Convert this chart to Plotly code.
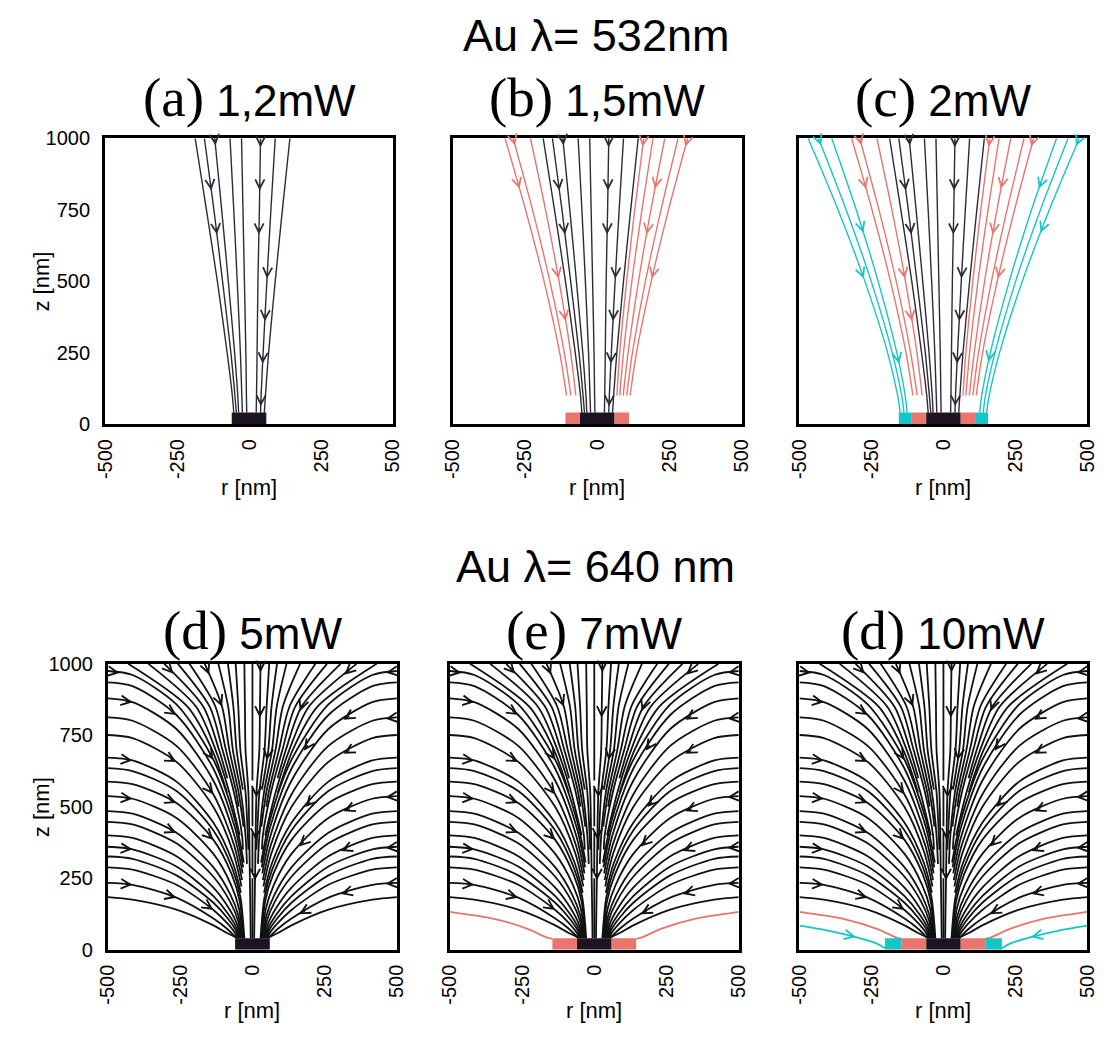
import numpy as np
import plotly.graph_objects as go

FIG_W, FIG_H = 1118, 1037

# ------------------------------------------------------------------
# Au, lambda = 532 nm : streamlines given as r [nm] at the z levels below
# ------------------------------------------------------------------
Z_LEVELS_532 = [1000, 750, 500, 250, 100, 40]

BLACK_532 = [
    [-187, -148, -110, -76, -58, -53],
    [-155, -122, -92, -63, -49, -44],
    [-119, -95, -72, -50, -39, -36],
    [-66, -53, -41, -30, -25, -23],
    [-26, -21, -16, -11, -9, -8],
    [40, 36, 31, 28, 26, 25],
    [91, 76, 62, 49, 42, 40],
    [142, 116, 91, 68, 57, 53],
]
RED_532 = [
    [-319, -248, -184, -130, -106],
    [-291, -224, -164, -114, -91],
    [-231, -179, -132, -92, -74],
    [161, 130, 102, 78, 68],
    [193, 155, 120, 91, 78],
    [234, 186, 143, 107, 90],
    [280, 221, 167, 122, 102],
    [313, 247, 187, 136, 114],
]
CYAN_532 = [
    [-470, -366, -273, -194, -159, -150],
    [-434, -338, -251, -178, -145, -137],
    [-388, -303, -227, -162, -133, -126],
    [393, 306, 229, 163, 133, 126],
    [433, 337, 251, 179, 146, 138],
    [472, 368, 274, 195, 159, 150],
]
# arrowheads: (streamline index, z [nm])
ARROWS_BLACK_532 = [(2, 975), (1, 817), (1, 663), (5, 968), (5, 817), (5, 663),
                    (6, 509), (6, 360), (6, 211), (6, 62)]
ARROWS_RED_532 = [(1, 975), (0, 823), (2, 509), (2, 360), (3, 970), (5, 823),
                  (5, 663), (7, 509), (7, 970)]
ARROWS_CYAN_532 = [(1, 975), (2, 669), (0, 509), (2, 211), (5, 972), (3, 823),
                   (5, 669), (3, 217)]

# ------------------------------------------------------------------
# Au, lambda = 640 nm : left half of the field, (r, z) points per streamline
# ------------------------------------------------------------------
SIDE_LINES_640 = [  # entering through the side wall
    [(-500, 975), (-415, 961), (-263, 858), (-135, 664), (-60, 452), (-30, 305)],
    [(-500, 935), (-415, 922), (-263, 821), (-135, 633), (-60, 425), (-32, 288)],
    [(-500, 879), (-415, 866), (-263, 772), (-135, 591), (-62, 397), (-34, 267)],
    [(-500, 813), (-415, 801), (-263, 713), (-135, 543), (-64, 367), (-36, 243)],
    [(-500, 751), (-415, 740), (-263, 657), (-135, 499), (-66, 338), (-38, 221)],
    [(-500, 672), (-415, 662), (-263, 588), (-135, 444), (-68, 304), (-40, 199)],
    [(-500, 635), (-415, 625), (-263, 555), (-135, 417), (-70, 285), (-42, 185), (-28, 40)],
    [(-500, 588), (-415, 579), (-263, 513), (-135, 384), (-72, 264), (-44, 169), (-31, 40)],
    [(-500, 537), (-415, 528), (-263, 461), (-135, 335), (-74, 227), (-46, 142), (-34, 40)],
    [(-500, 485), (-415, 476), (-263, 409), (-135, 288), (-76, 192), (-48, 118), (-37, 40)],
    [(-500, 447), (-415, 438), (-263, 372), (-135, 255), (-78, 169), (-50, 102), (-40, 40)],
    [(-500, 400), (-415, 391), (-263, 327), (-135, 217), (-80, 142), (-52, 85), (-43, 40)],
    [(-500, 360), (-415, 351), (-263, 291), (-135, 187), (-82, 122), (-54, 73), (-46, 40)],
    [(-500, 326), (-415, 318), (-263, 260), (-135, 164), (-84, 107), (-56, 64), (-49, 40)],
    [(-500, 288), (-415, 280), (-263, 227), (-135, 139), (-86, 91), (-58, 55), (-52, 40)],
    [(-500, 234), (-415, 227), (-263, 182), (-135, 109), (-88, 73), (-55, 40)],
    [(-500, 184), (-415, 175), (-263, 140), (-135, 85), (-90, 59), (-58, 44)],
]
TOP_LINES_640 = [  # entering through the top wall
    [(-430, 1000), (-225, 850), (-140, 700), (-88, 550)],
    [(-360, 1000), (-195, 850), (-128, 700), (-80, 550), (-44, 400)],
    [(-305, 1000), (-170, 850), (-116, 700), (-87, 600)],
    [(-258, 1000), (-148, 850), (-104, 700), (-64, 550), (-36, 400), (-33, 350)],
    [(-218, 1000), (-128, 850), (-92, 700), (-56, 550), (-48, 500)],
    [(-165, 1000), (-105, 850), (-80, 700), (-48, 550), (-31, 430)],
    [(-118, 1000), (-84, 850), (-68, 700), (-40, 550), (-24, 400), (-19, 300)],
    [(-85, 1000), (-66, 850), (-55, 700), (-33, 560)],
    [(-58, 1000), (-49, 850), (-42, 700), (-24, 550), (-16, 400), (-14, 350)],
    [(-28, 1000), (-26, 850), (-24, 700), (-14, 550), (-11, 400), (-9, 250), (-7, 120), (-6, 40)],
]
AXIS_SEGMENTS_640 = [(1000, 592), (566, 432), (410, 272), (250, 40)]  # z ranges on r = 0

# arrowheads: (family, index, coordinate, value); the right half is the mirror image
LEFT_ARROWS_640 = [
    ("S", 0, "r", -460), ("S", 2, "r", -415), ("S", 5, "r", -415), ("S", 8, "r", -415),
    ("S", 12, "r", -415), ("S", 15, "r", -415), ("S", 1, "r", -263), ("S", 4, "r", -263),
    ("S", 7, "r", -263), ("S", 9, "r", -263), ("S", 15, "r", -263), ("S", 0, "r", -135),
    ("S", 3, "r", -135), ("S", 7, "r", -135), ("S", 14, "r", -135),
    ("T", 2, "z", 965), ("T", 5, "z", 962), ("T", 5, "z", 850),
]
RIGHT_ARROWS_640 = [
    ("S", 0, "r", 462), ("S", 3, "r", 461), ("S", 8, "r", 461), ("S", 12, "r", 461),
    ("S", 15, "r", 461), ("S", 2, "r", 315), ("S", 4, "r", 315), ("S", 8, "r", 315),
    ("S", 11, "r", 306), ("S", 15, "r", 306), ("S", 1, "r", 178), ("S", 5, "r", 184),
    ("S", 8, "r", 161), ("S", 15, "r", 161),
    ("T", 1, "z", 962), ("T", 2, "z", 834), ("T", 7, "z", 663),
    ("T", 9, "z", 970), ("T", 9, "z", 811), ("T", 9, "z", 532), ("T", 9, "z", 384),
    ("T", 9, "z", 242),
]
RED_640 = [(-500, 132), (-344, 107), (-231, 73), (-163, 42), (-145, 38)]
CYAN_640 = [(-500, 84), (-401, 67), (-304, 44), (-231, 21), (-203, 5)]
CYAN_ARROW_640 = -304  # r of the arrowhead on the cyan line (left side)

# particle / melt regions at the bottom: band edges in r [nm] (black, red, cyan)
BAND_EDGES_532 = [[60], [60, 110], [60, 110, 155]]
BAND_EDGES_640 = [[60], [60, 145], [60, 145, 203]]
BAND_HEIGHT = 40

TITLES = ["Au λ= 532nm", "Au λ= 640 nm"]
PANEL_LABELS = [("(a)", "1,2mW"), ("(b)", "1,5mW"), ("(c)", "2mW"),
                ("(d)", "5mW"), ("(e)", "7mW"), ("(d)", "10mW")]
R_TICKS = [-500, -250, 0, 250, 500]
Z_TICKS = [0, 250, 500, 750, 1000]

# ------------------------------------------------------------------
# styling
# ------------------------------------------------------------------
DISK = "#1c1420"
RED = "#e8766f"
CYAN = "#14c6c8"
LINE_532 = "#2c2a36"
LINE_640 = "#111111"
BAND_COLORS = [DISK, RED, CYAN]
SANS = "Liberation Sans, Arial, sans-serif"
SERIF = "Liberation Serif, Times New Roman, serif"

# pixel boxes of the six frames: (left, right, top, bottom)
FRAMES = [(95, 389, 130, 422), (450, 745, 130, 422), (804, 1098, 130, 422),
          (98, 393, 667, 959), (447, 742, 667, 959), (804, 1098, 667, 959)]


def px_x(x):
    return x / FIG_W


def px_y(y):
    return 1 - y / FIG_H


def locate(pts, coord, value):
    """Point on a polyline where the given coordinate reaches value, plus direction."""
    k = 0 if coord == "r" else 1
    for a, b in zip(pts[:-1], pts[1:]):
        if (a[k] - value) * (b[k] - value) <= 0 and a[k] != b[k]:
            t = (value - a[k]) / (b[k] - a[k])
            r = a[0] + t * (b[0] - a[0])
            z = a[1] + t * (b[1] - a[1])
            return r, z, b[0] - a[0], b[1] - a[1]
    return None


fig = go.Figure()
annotations = []
shapes = []


def axis_names(i):
    s = "" if i == 0 else str(i + 1)
    return "x" + s, "y" + s


def add_lines(i, lines, color, width):
    xs, ys = [], []
    for pts in lines:
        xs += [p[0] for p in pts] + [None]
        ys += [p[1] for p in pts] + [None]
    xa, ya = axis_names(i)
    fig.add_trace(go.Scatter(x=xs, y=ys, mode="lines", xaxis=xa, yaxis=ya,
                             line=dict(color=color, width=width, shape="spline", smoothing=0.8),
                             hoverinfo="skip", showlegend=False))


def add_arrow(i, pts, coord, value, color, width, size):
    hit = locate(pts, coord, value)
    if hit is None:
        return
    r, z, dr, dz = hit
    n = np.hypot(dr, dz)
    xa, ya = axis_names(i)
    annotations.append(dict(x=r, y=z, ax=r - 26 * dr / n, ay=z - 26 * dz / n,
                            xref=xa, yref=ya, axref=xa, ayref=ya, text="",
                            font=dict(size=1), borderpad=0,
                            showarrow=True, arrowhead=5, arrowsize=size,
                            arrowwidth=width, arrowcolor=color, standoff=0))


def add_bands(i, edges):
    xa, ya = axis_names(i)
    bounds = [0] + edges
    for j in range(len(edges)):
        lo, hi = bounds[j], bounds[j + 1]
        spans = [(-hi, hi)] if j == 0 else [(-hi, -lo), (lo, hi)]
        for x0, x1 in spans:
            shapes.append(dict(type="rect", xref=xa, yref=ya, x0=x0, x1=x1, y0=0,
                               y1=BAND_HEIGHT, fillcolor=BAND_COLORS[j], line_width=0,
                               layer="above"))


def to_pts(rs):
    return [(r, z) for r, z in zip(rs, Z_LEVELS_532)]


# ---- top row: 532 nm ----
for i in range(3):
    black = [to_pts(rs) for rs in BLACK_532]
    add_lines(i, black, LINE_532, 1.4)
    for k, z in ARROWS_BLACK_532:
        add_arrow(i, black[k], "z", z, LINE_532, 1.2, 1.5)
    if i >= 1:
        red = [to_pts(rs) for rs in RED_532]
        add_lines(i, red, RED, 1.4)
        for k, z in ARROWS_RED_532:
            add_arrow(i, red[k], "z", z, RED, 1.2, 1.5)
    if i >= 2:
        cyan = [to_pts(rs) for rs in CYAN_532]
        add_lines(i, cyan, CYAN, 1.4)
        for k, z in ARROWS_CYAN_532:
            add_arrow(i, cyan[k], "z", z, CYAN, 1.2, 1.5)
    add_bands(i, BAND_EDGES_532[i])


def mirror(pts):
    return [(-r, z) for r, z in pts]


# ---- bottom row: 640 nm ----
for j in range(3):
    i = 3 + j
    left = {"S": SIDE_LINES_640, "T": TOP_LINES_640}
    right = {k: [mirror(p) for p in v] for k, v in left.items()}
    axis = [[(0, a), (0, b)] for a, b in AXIS_SEGMENTS_640]
    add_lines(i, SIDE_LINES_640 + TOP_LINES_640 + right["S"] + right["T"] + axis,
              LINE_640, 1.8)
    for fam, k, c, v in LEFT_ARROWS_640:
        add_arrow(i, left[fam][k], c, v, LINE_640, 1.3, 1.45)
    for fam, k, c, v in RIGHT_ARROWS_640:
        add_arrow(i, right[fam][k], c, v, LINE_640, 1.3, 1.45)
    if j >= 1:
        add_lines(i, [RED_640, mirror(RED_640)], RED, 1.8)
    if j >= 2:
        add_lines(i, [CYAN_640, mirror(CYAN_640)], CYAN, 1.8)
        add_arrow(i, CYAN_640, "r", CYAN_ARROW_640, CYAN, 1.3, 1.45)
        add_arrow(i, mirror(CYAN_640), "r", -CYAN_ARROW_640, CYAN, 1.3, 1.45)
    add_bands(i, BAND_EDGES_640[j])

# ---- axes ----
layout = {}
for i, (l, r, t, b) in enumerate(FRAMES):
    s = "" if i == 0 else str(i + 1)
    first_col = i % 3 == 0
    layout["xaxis" + s] = dict(
        domain=[px_x(l), px_x(r)], range=[-500, 500], anchor="y" + s,
        tickvals=R_TICKS, ticktext=[str(v) for v in R_TICKS], tickangle=-90,
        showline=True, linewidth=3, linecolor="black", mirror=True, ticks="",
        showgrid=False, zeroline=False, ticklabelstandoff=4,
        tickfont=dict(family=SANS, size=20, color="black"), fixedrange=True)
    layout["yaxis" + s] = dict(
        domain=[px_y(b), px_y(t)], range=[0, 1000], anchor="x" + s,
        tickvals=Z_TICKS, ticktext=[str(v) for v in Z_TICKS],
        showticklabels=first_col, showline=True, linewidth=3, linecolor="black",
        mirror=True, ticks="", showgrid=False, zeroline=False, ticklabelstandoff=8,
        tickfont=dict(family=SANS, size=20, color="black"), fixedrange=True)

# ---- texts ----
for t_text, y in zip(TITLES, [25, 568]):
    annotations.append(dict(text=t_text, x=px_x(596), y=px_y(y), xref="paper", yref="paper",
                            showarrow=False, xanchor="center", yanchor="middle",
                            font=dict(family=SANS, size=45, color="black")))
for i, (tag, power) in enumerate(PANEL_LABELS):
    l, r, t, b = FRAMES[i]
    y = 88 if i < 3 else 633
    annotations.append(dict(
        text=f'<span style="font-family:{SERIF};font-size:55px">{tag}</span> {power}',
        x=px_x((l + r) / 2), y=px_y(y), xref="paper", yref="paper", showarrow=False,
        xanchor="center", yanchor="middle", font=dict(family=SANS, size=44, color="black")))
    yr = 487 if i < 3 else 1021
    annotations.append(dict(text="r [nm]", x=px_x((l + r) / 2), y=px_y(yr), xref="paper",
                            yref="paper", showarrow=False, xanchor="center", yanchor="middle",
                            font=dict(family=SANS, size=22, color="black")))
    if i % 3 == 0:
        annotations.append(dict(text="z [nm]", x=px_x(30), y=px_y((t + b) / 2), xref="paper",
                                yref="paper", showarrow=False, textangle=-90,
                                xanchor="center", yanchor="middle",
                                font=dict(family=SANS, size=22, color="black")))

fig.update_layout(width=FIG_W, height=FIG_H, margin=dict(l=0, r=0, t=0, b=0),
                  paper_bgcolor="white", plot_bgcolor="white",
                  annotations=annotations, shapes=shapes, **layout)

fig.write_html("out.html", config={"displayModeBar": False},
               post_script="document.body.style.margin='0';")
